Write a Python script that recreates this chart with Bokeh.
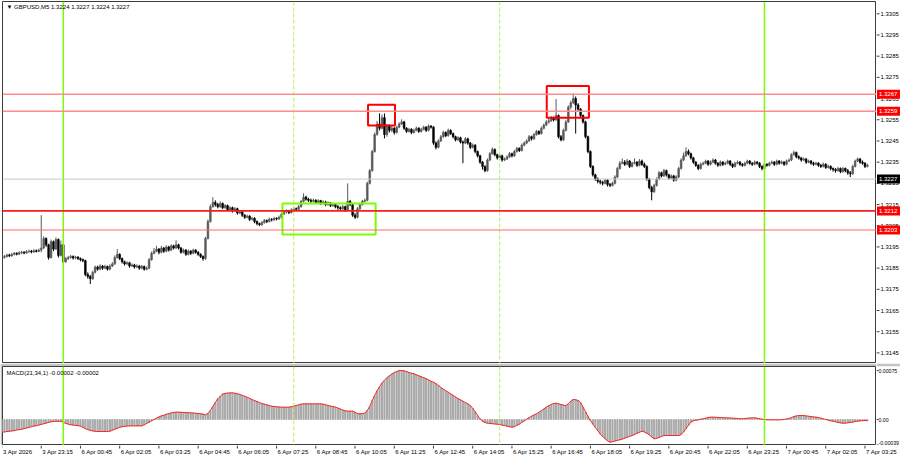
from bokeh.plotting import figure
from bokeh.models import Range1d, Span, Label, ColumnDataSource
from bokeh.core.properties import value
from bokeh.layouts import column, row
from bokeh.embed import file_html
from bokeh.resources import INLINE

# ---------------- data (GBPUSD M5) ----------------
first_open = 1.31898
closes = [
    1.31900, 1.31905, 1.31912, 1.31908, 1.31915, 1.31920, 1.31916, 1.31922, 1.31925, 1.31921,
    1.31928, 1.31930, 1.31926, 1.31932, 1.31929, 1.31935, 1.31945, 1.31990, 1.31960, 1.31900,
    1.31975, 1.31940, 1.31985, 1.31910, 1.31960, 1.31880, 1.31895, 1.31900, 1.31905, 1.31898,
    1.31902, 1.31895, 1.31890, 1.31885, 1.31820, 1.31810, 1.31800, 1.31830, 1.31855, 1.31845,
    1.31860, 1.31850, 1.31858, 1.31845, 1.31860, 1.31870, 1.31900, 1.31915, 1.31895, 1.31880,
    1.31870, 1.31875, 1.31860, 1.31865, 1.31855, 1.31860, 1.31850, 1.31858, 1.31845, 1.31850,
    1.31890, 1.31920, 1.31930, 1.31940, 1.31925, 1.31945, 1.31930, 1.31950, 1.31935, 1.31955,
    1.31945, 1.31960, 1.31945, 1.31925, 1.31935, 1.31915, 1.31930, 1.31920, 1.31935, 1.31925,
    1.31915, 1.31905, 1.31895, 1.31990, 1.32070, 1.32140, 1.32160, 1.32150, 1.32140, 1.32155,
    1.32135, 1.32145, 1.32125, 1.32135, 1.32120, 1.32130, 1.32110, 1.32115, 1.32100, 1.32090,
    1.32095, 1.32080, 1.32085, 1.32070, 1.32060, 1.32055, 1.32065, 1.32075, 1.32070, 1.32080,
    1.32078, 1.32085, 1.32082, 1.32090, 1.32105, 1.32115, 1.32120, 1.32112, 1.32125, 1.32130,
    1.32128, 1.32140, 1.32165, 1.32185, 1.32175, 1.32170, 1.32165, 1.32170, 1.32160, 1.32168,
    1.32155, 1.32162, 1.32150, 1.32158, 1.32145, 1.32150, 1.32140, 1.32135, 1.32130, 1.32140,
    1.32125, 1.32165, 1.32150, 1.32100, 1.32090, 1.32130, 1.32150, 1.32165, 1.32170, 1.32250,
    1.32310, 1.32400, 1.32480, 1.32530, 1.32510, 1.32560, 1.32480, 1.32520, 1.32500, 1.32510,
    1.32490, 1.32515, 1.32530, 1.32540, 1.32510, 1.32495, 1.32505, 1.32490, 1.32500, 1.32510,
    1.32495, 1.32505, 1.32515, 1.32500, 1.32520, 1.32515, 1.32440, 1.32420, 1.32450, 1.32470,
    1.32490, 1.32475, 1.32500, 1.32485, 1.32470, 1.32455, 1.32465, 1.32445, 1.32440, 1.32460,
    1.32440, 1.32420, 1.32430, 1.32400, 1.32380, 1.32350, 1.32330, 1.32310, 1.32360, 1.32390,
    1.32410, 1.32385, 1.32370, 1.32380, 1.32360, 1.32365, 1.32375, 1.32390, 1.32380, 1.32400,
    1.32415, 1.32405, 1.32430, 1.32440, 1.32450, 1.32470, 1.32460, 1.32480, 1.32495, 1.32485,
    1.32510, 1.32525, 1.32540, 1.32545, 1.32560, 1.32550, 1.32570, 1.32470, 1.32455, 1.32500,
    1.32540, 1.32610, 1.32630, 1.32650, 1.32620, 1.32600, 1.32570, 1.32540, 1.32470, 1.32400,
    1.32330, 1.32290, 1.32270, 1.32260, 1.32255, 1.32250, 1.32265, 1.32245, 1.32240, 1.32250,
    1.32280, 1.32320, 1.32345, 1.32350, 1.32340, 1.32355, 1.32330, 1.32345, 1.32350, 1.32335,
    1.32355, 1.32340, 1.32330, 1.32270, 1.32230, 1.32210, 1.32240, 1.32270, 1.32300, 1.32285,
    1.32310, 1.32290, 1.32275, 1.32285, 1.32265, 1.32280, 1.32320, 1.32360, 1.32380, 1.32400,
    1.32390, 1.32370, 1.32350, 1.32335, 1.32320, 1.32340, 1.32345, 1.32355, 1.32340, 1.32350,
    1.32360, 1.32345, 1.32335, 1.32350, 1.32340, 1.32345, 1.32355, 1.32340, 1.32330, 1.32345,
    1.32350, 1.32340, 1.32335, 1.32345, 1.32355, 1.32345, 1.32340, 1.32350, 1.32345, 1.32330,
    1.32320, 1.32340, 1.32335, 1.32345, 1.32350, 1.32340, 1.32355, 1.32345, 1.32350, 1.32340,
    1.32355, 1.32360, 1.32385, 1.32395, 1.32375, 1.32370, 1.32360, 1.32365, 1.32350, 1.32355,
    1.32345, 1.32340, 1.32345, 1.32335, 1.32330, 1.32340, 1.32325, 1.32330, 1.32320, 1.32315,
    1.32310, 1.32320, 1.32305, 1.32320, 1.32310, 1.32300, 1.32295, 1.32330, 1.32355, 1.32365,
    1.32350, 1.32345, 1.32330, 1.32335,
]
highs = [
    1.31908, 1.31912, 1.31918, 1.31918, 1.31922, 1.31926, 1.31925, 1.31930, 1.31932, 1.31930,
    1.31935, 1.31938, 1.31936, 1.31940, 1.31938, 1.31942, 1.32100, 1.32000, 1.31995, 1.31965,
    1.31985, 1.31980, 1.31995, 1.31990, 1.31980, 1.31962, 1.31902, 1.31908, 1.31912, 1.31910,
    1.31908, 1.31906, 1.31900, 1.31895, 1.31890, 1.31830, 1.31818, 1.31838, 1.31862, 1.31862,
    1.31868, 1.31865, 1.31866, 1.31862, 1.31868, 1.31878, 1.31910, 1.31940, 1.31920, 1.31900,
    1.31885, 1.31882, 1.31880, 1.31872, 1.31870, 1.31868, 1.31865, 1.31865, 1.31862, 1.31858,
    1.31898, 1.31928, 1.31945, 1.31955, 1.31945, 1.31955, 1.31950, 1.31958, 1.31955, 1.31962,
    1.31960, 1.31981, 1.31965, 1.31950, 1.31942, 1.31940, 1.31938, 1.31935, 1.31942, 1.31940,
    1.31930, 1.31920, 1.31910, 1.31998, 1.32080, 1.32150, 1.32185, 1.32170, 1.32158, 1.32165,
    1.32160, 1.32152, 1.32150, 1.32142, 1.32140, 1.32138, 1.32135, 1.32122, 1.32120, 1.32105,
    1.32102, 1.32100, 1.32092, 1.32090, 1.32075, 1.32065, 1.32072, 1.32082, 1.32080, 1.32088,
    1.32086, 1.32092, 1.32090, 1.32098, 1.32112, 1.32122, 1.32128, 1.32125, 1.32132, 1.32138,
    1.32136, 1.32148, 1.32172, 1.32203, 1.32192, 1.32182, 1.32178, 1.32178, 1.32175, 1.32175,
    1.32172, 1.32170, 1.32168, 1.32165, 1.32162, 1.32158, 1.32155, 1.32148, 1.32142, 1.32148,
    1.32145, 1.32250, 1.32172, 1.32155, 1.32110, 1.32138, 1.32158, 1.32172, 1.32178, 1.32258,
    1.32318, 1.32408, 1.32490, 1.32545, 1.32580, 1.32575, 1.32580, 1.32530, 1.32528, 1.32520,
    1.32515, 1.32522, 1.32538, 1.32552, 1.32545, 1.32515, 1.32512, 1.32510, 1.32508, 1.32518,
    1.32515, 1.32512, 1.32522, 1.32520, 1.32528, 1.32525, 1.32520, 1.32448, 1.32458, 1.32478,
    1.32498, 1.32495, 1.32508, 1.32505, 1.32490, 1.32475, 1.32472, 1.32470, 1.32452, 1.32468,
    1.32465, 1.32445, 1.32438, 1.32435, 1.32405, 1.32385, 1.32355, 1.32335, 1.32368, 1.32398,
    1.32420, 1.32415, 1.32390, 1.32388, 1.32385, 1.32372, 1.32382, 1.32398, 1.32395, 1.32408,
    1.32422, 1.32420, 1.32438, 1.32448, 1.32458, 1.32478, 1.32475, 1.32488, 1.32502, 1.32500,
    1.32518, 1.32532, 1.32548, 1.32555, 1.32568, 1.32565, 1.32648, 1.32575, 1.32478, 1.32508,
    1.32548, 1.32618, 1.32640, 1.32675, 1.32660, 1.32628, 1.32605, 1.32575, 1.32545, 1.32475,
    1.32405, 1.32335, 1.32295, 1.32278, 1.32268, 1.32262, 1.32272, 1.32270, 1.32252, 1.32258,
    1.32288, 1.32328, 1.32355, 1.32368, 1.32360, 1.32365, 1.32360, 1.32352, 1.32368, 1.32355,
    1.32365, 1.32362, 1.32348, 1.32335, 1.32275, 1.32238, 1.32248, 1.32278, 1.32308, 1.32305,
    1.32318, 1.32315, 1.32295, 1.32292, 1.32290, 1.32288, 1.32328, 1.32368, 1.32395, 1.32420,
    1.32410, 1.32395, 1.32375, 1.32355, 1.32340, 1.32348, 1.32352, 1.32362, 1.32360, 1.32358,
    1.32368, 1.32365, 1.32350, 1.32358, 1.32355, 1.32352, 1.32362, 1.32360, 1.32345, 1.32352,
    1.32358, 1.32355, 1.32345, 1.32352, 1.32362, 1.32360, 1.32350, 1.32358, 1.32355, 1.32350,
    1.32335, 1.32348, 1.32345, 1.32352, 1.32358, 1.32355, 1.32362, 1.32360, 1.32358, 1.32355,
    1.32362, 1.32368, 1.32392, 1.32405, 1.32400, 1.32382, 1.32375, 1.32372, 1.32370, 1.32362,
    1.32360, 1.32352, 1.32352, 1.32350, 1.32342, 1.32348, 1.32345, 1.32338, 1.32335, 1.32325,
    1.32322, 1.32328, 1.32325, 1.32328, 1.32325, 1.32318, 1.32308, 1.32338, 1.32362, 1.32372,
    1.32370, 1.32358, 1.32350, 1.32342,
]
lows = [
    1.31890, 1.31895, 1.31900, 1.31902, 1.31904, 1.31910, 1.31910, 1.31912, 1.31916, 1.31915,
    1.31918, 1.31922, 1.31920, 1.31922, 1.31924, 1.31925, 1.31925, 1.31940, 1.31950, 1.31890,
    1.31895, 1.31930, 1.31935, 1.31900, 1.31905, 1.31872, 1.31875, 1.31888, 1.31895, 1.31890,
    1.31892, 1.31888, 1.31882, 1.31878, 1.31812, 1.31800, 1.31775, 1.31795, 1.31825, 1.31838,
    1.31840, 1.31842, 1.31845, 1.31838, 1.31840, 1.31855, 1.31865, 1.31895, 1.31888, 1.31872,
    1.31862, 1.31865, 1.31852, 1.31855, 1.31848, 1.31850, 1.31842, 1.31845, 1.31838, 1.31840,
    1.31845, 1.31885, 1.31915, 1.31925, 1.31915, 1.31920, 1.31922, 1.31925, 1.31928, 1.31930,
    1.31938, 1.31940, 1.31938, 1.31918, 1.31920, 1.31908, 1.31910, 1.31912, 1.31915, 1.31918,
    1.31908, 1.31898, 1.31885, 1.31890, 1.31985, 1.32065, 1.32135, 1.32140, 1.32132, 1.32135,
    1.32128, 1.32130, 1.32118, 1.32120, 1.32112, 1.32115, 1.32102, 1.32105, 1.32092, 1.32082,
    1.32085, 1.32072, 1.32075, 1.32062, 1.32052, 1.32048, 1.32050, 1.32060, 1.32062, 1.32065,
    1.32070, 1.32072, 1.32075, 1.32078, 1.32085, 1.32100, 1.32108, 1.32105, 1.32108, 1.32118,
    1.32120, 1.32122, 1.32135, 1.32160, 1.32168, 1.32162, 1.32158, 1.32160, 1.32152, 1.32155,
    1.32148, 1.32150, 1.32142, 1.32145, 1.32138, 1.32140, 1.32132, 1.32125, 1.32120, 1.32125,
    1.32115, 1.32120, 1.32142, 1.32092, 1.32082, 1.32085, 1.32125, 1.32145, 1.32160, 1.32165,
    1.32245, 1.32305, 1.32395, 1.32475, 1.32500, 1.32505, 1.32462, 1.32470, 1.32490, 1.32492,
    1.32480, 1.32485, 1.32510, 1.32525, 1.32502, 1.32488, 1.32490, 1.32482, 1.32485, 1.32495,
    1.32488, 1.32490, 1.32500, 1.32492, 1.32495, 1.32508, 1.32432, 1.32410, 1.32415, 1.32445,
    1.32465, 1.32468, 1.32470, 1.32478, 1.32462, 1.32448, 1.32450, 1.32438, 1.32345, 1.32435,
    1.32432, 1.32412, 1.32415, 1.32392, 1.32372, 1.32342, 1.32315, 1.32302, 1.32305, 1.32355,
    1.32385, 1.32378, 1.32362, 1.32365, 1.32352, 1.32355, 1.32360, 1.32370, 1.32372, 1.32375,
    1.32395, 1.32398, 1.32400, 1.32425, 1.32435, 1.32445, 1.32452, 1.32455, 1.32475, 1.32478,
    1.32480, 1.32505, 1.32520, 1.32532, 1.32540, 1.32542, 1.32545, 1.32462, 1.32448, 1.32450,
    1.32495, 1.32535, 1.32600, 1.32625, 1.32485, 1.32592, 1.32562, 1.32532, 1.32462, 1.32392,
    1.32322, 1.32282, 1.32262, 1.32250, 1.32245, 1.32240, 1.32245, 1.32235, 1.32232, 1.32235,
    1.32245, 1.32275, 1.32315, 1.32340, 1.32332, 1.32335, 1.32322, 1.32325, 1.32340, 1.32328,
    1.32330, 1.32332, 1.32322, 1.32262, 1.32222, 1.32170, 1.32205, 1.32235, 1.32265, 1.32278,
    1.32280, 1.32282, 1.32268, 1.32270, 1.32258, 1.32260, 1.32275, 1.32315, 1.32355, 1.32375,
    1.32382, 1.32362, 1.32342, 1.32328, 1.32312, 1.32315, 1.32335, 1.32340, 1.32332, 1.32335,
    1.32345, 1.32338, 1.32328, 1.32330, 1.32332, 1.32335, 1.32340, 1.32332, 1.32322, 1.32325,
    1.32340, 1.32332, 1.32328, 1.32330, 1.32340, 1.32338, 1.32332, 1.32335, 1.32338, 1.32322,
    1.32311, 1.32315, 1.32328, 1.32330, 1.32340, 1.32332, 1.32335, 1.32338, 1.32340, 1.32332,
    1.32335, 1.32350, 1.32355, 1.32380, 1.32368, 1.32362, 1.32352, 1.32355, 1.32342, 1.32345,
    1.32338, 1.32332, 1.32335, 1.32328, 1.32322, 1.32325, 1.32318, 1.32320, 1.32312, 1.32305,
    1.32300, 1.32305, 1.32298, 1.32300, 1.32302, 1.32290, 1.32280, 1.32290, 1.32325, 1.32350,
    1.32342, 1.32338, 1.32322, 1.32325,
]
# MACD(21,34,1) main / signal, in units of 1e-5
macd_pts = [
    -19.4, -19, -18.5, -18, -17.5, -17, -16, -15.5, -15, -14,
    -13, -12, -11, -10, -9.5, -8.5, -7.5, -6.5, -5.5, -4.5,
    -3.5, -3, -2.5, -3, -2.5, -4, -6, -7, -8, -8.5,
    -9, -9.5, -10, -12, -14, -15.5, -16.8, -17.5, -18, -18.4,
    -18.4, -18.4, -18.4, -18.2, -18, -16.5, -15, -13.3, -12, -11,
    -10.5, -10, -9.8, -9.7, -9.7, -9.7, -9.7, -9.7, -8, -6,
    -4, -2, 0, 2, 4, 5.5, 6.5, 8, 9, 10,
    10.8, 11.2, 11.2, 11, 10.8, 10.5, 10.3, 10.2, 10, 9.6,
    9.2, 8.9, 8.2, 7.1, 9.5, 13.8, 20, 26, 31.6, 35.5,
    39, 40, 40.5, 40.8, 40.8, 40.3, 39.5, 38.3, 37, 35.5,
    34, 32.5, 30.5, 29, 27.5, 26, 24.5, 23.5, 22.5, 21.5,
    20.3, 19.8, 19.5, 19.2, 19, 18.9, 18.9, 18.9, 19.5, 20.5,
    21.5, 22.5, 23.5, 24, 24, 24, 24, 24, 24, 24,
    24, 23.5, 22.5, 21.5, 20.5, 19.9, 19, 17.5, 16, 14.5,
    13.3, 12.8, 12.8, 12.8, 11, 9, 8.7, 9, 9.7, 14,
    20, 29, 37, 44, 50, 56, 60, 64, 67, 69.5,
    72, 73.5, 75, 75, 74.5, 73.5, 72, 70.9, 70, 68.5,
    67, 65.5, 64, 62.5, 60.5, 58.5, 57.1, 55, 52, 49,
    46.5, 44, 41.8, 39.3, 37, 34.5, 32, 30.1, 28, 26,
    24, 21.4, 17, 12, 6, 1, -2.5, -4.5, -5.6, -6,
    -6.4, -6.8, -7.2, -7.7, -8.5, -9.3, -10.1, -11, -11.7, -11,
    -9, -7, -4.5, -2, 0.5, 3, 5, 7, 8.7, 11,
    13.5, 16, 18.9, 21, 23, 24.5, 25, 24, 23, 22,
    21.4, 24, 28, 30.6, 30.3, 29.1, 26, 19, 12, 5,
    -1.5, -7, -12, -17, -22, -26, -29.5, -32.5, -34.7, -34,
    -33, -32, -31, -30, -28.5, -27, -26, -24.5, -23, -21,
    -19.5, -17.9, -19, -21, -23.5, -26.5, -29.5, -29, -27.5, -26,
    -24.5, -24.5, -24.5, -24.5, -24.5, -24.5, -24.5, -23, -19, -14,
    -9, -4, -2, -1, -0.5, 0.5, 1, 2, 3, 3.6,
    3.6, 3.5, 3.2, 3, 2.8, 2.6, 2.5, 2.3, 2, 1.8,
    1.5, 1.2, 1, 1.5, 2, 2.3, 2.5, 2.5, 2, 1.2,
    0.5, 0, -0.3, -0.5, -0.5, -0.5, -0.5, -0.5, -0.3, 0.2,
    0.8, 1.5, 3, 4.5, 5.5, 6, 6.1, 6.1, 5.5, 5,
    4.5, 4, 3.6, 3, 2, 1, 0, -1, -2, -2.5,
    -3.5, -4.5, -5.2, -5.6, -5.6, -5, -4.5, -4, -3, -2.5,
    -2, -1.8, -1.5, -2,
]

price_ticks = [1.3145, 1.3155, 1.3165, 1.3175, 1.3185, 1.3195, 1.3205, 1.3215, 1.3225,
               1.3235, 1.3245, 1.3255, 1.3265, 1.3275, 1.3285, 1.3295, 1.3305]
macd_ticks = [-0.00039, 0.0, 0.00075]
macd_tick_labels = ["-0.00039", "0.00", "0.00075"]
time_tick_idx = [0, 16, 32, 48, 64, 80, 96, 112, 128, 144, 160, 176, 192, 208, 224, 240,
                 256, 272, 288, 304, 320, 336, 352]
time_labels = ["3 Apr 2026", "3 Apr 23:15", "6 Apr 00:45", "6 Apr 02:05", "6 Apr 03:25",
               "6 Apr 04:45", "6 Apr 06:05", "6 Apr 07:25", "6 Apr 08:45", "6 Apr 10:05",
               "6 Apr 11:25", "6 Apr 12:45", "6 Apr 14:05", "6 Apr 15:25", "6 Apr 16:45",
               "6 Apr 18:05", "6 Apr 19:25", "6 Apr 20:45", "6 Apr 22:05", "6 Apr 23:25",
               "7 Apr 00:45", "7 Apr 02:05", "7 Apr 03:25"]

level_prices = [1.3267, 1.3259, 1.3212, 1.3203]
level_labels = ["1.3267", "1.3259", "1.3212", "1.3203"]
bid_price = 1.3227
bid_label = "1.3227"
day_separators = [25, 311]
session_marks = [119, 203]

box_left = [114.4, 149.3, 222.2]
box_right = [152.4, 160.3, 239.4]
box_top = [1.32155, 1.32621, 1.32709]
box_bottom = [1.32009, 1.32523, 1.32560]
box_kind = ["green", "red", "red"]

title_text = "\u25BC GBPUSD,M5  1.3224 1.3227 1.3224 1.3227"
macd_title = "MACD(21,34,1) -0.00002 -0.00002"

# ---------------- layout constants ----------------
FONT = "Liberation Sans"
LIME = "#7CFC00"
FRAME_W = 874
AXIS_W = 24
MAIN_H = 362
MACD_H = 79
x_lo, x_hi = 0.2, 356.7
px_per_bar = FRAME_W / (x_hi - x_lo)
p_lo, p_hi = 1.31400, 1.33108
m_lo, m_hi = -0.000398, 0.000812

n = len(closes)
idx = list(range(n))
opens = [first_open] + closes[:-1]
macd = [v * 1e-5 for v in macd_pts]

BULL = "#5a5a5a"
BEAR = "#000000"
colors = [BULL if c >= o else BEAR for o, c in zip(opens, closes)]
src = ColumnDataSource(dict(
    x=idx, h=highs, l=lows,
    top=[max(o, c) for o, c in zip(opens, closes)],
    bot=[min(o, c) for o, c in zip(opens, closes)],
    color=colors))

x_range = Range1d(x_lo, x_hi)
main_y = Range1d(p_lo, p_hi)
macd_y = Range1d(m_lo, m_hi)


def base_fig(**kw):
    f = figure(output_backend="svg", toolbar_location=None, x_axis_location=None,
               y_axis_location=None, min_border_left=0, min_border_right=0,
               min_border_top=0, min_border_bottom=0, **kw)
    f.grid.visible = False
    f.background_fill_color = "white"
    f.border_fill_color = "white"
    f.outline_line_color = None
    return f


# ---------------- main price panel ----------------
p = base_fig(frame_width=FRAME_W, frame_height=MAIN_H, x_range=x_range, y_range=main_y)
p.min_border_left = 2
p.min_border_top = 1
p.outline_line_color = "#3c3c3c"

for d in day_separators:
    p.add_layout(Span(location=d, dimension="height", line_color=LIME, line_width=1.5))
for s in session_marks:
    p.add_layout(Span(location=s, dimension="height", line_color="#B4F06A", line_width=1,
                      line_dash="4 2"))
level_colors = ["#FF8C8C", "#FF8C8C", "#FF1A1A", "#FF6A6A"]
level_widths = [1.5, 1.5, 1.6, 1.2]
for lp, lc, lw in zip(level_prices, level_colors, level_widths):
    p.add_layout(Span(location=lp, dimension="width", line_color=lc, line_width=lw))
p.add_layout(Span(location=bid_price, dimension="width", line_color="#C8C8C8", line_width=1))

p.segment(x0="x", x1="x", y0="l", y1="h", color="color", line_width=1, source=src)
p.vbar(x="x", width=0.7, top="top", bottom="bot", fill_color="color", line_color="color",
       line_width=0.6, source=src)

for bl, br, bt, bb, k in zip(box_left, box_right, box_top, box_bottom, box_kind):
    p.quad(left=[bl], right=[br], top=[bt], bottom=[bb], fill_alpha=0,
           line_color=(LIME if k == "green" else "#FF0000"), line_width=2)

p.add_layout(Label(x=x_lo, y=p_hi, x_offset=4, y_offset=-2, text=title_text,
                   text_align="left", text_baseline="top", text_font=FONT,
                   text_font_size="6px", text_color="#000000"))

# price scale strip (right)
pa = base_fig(frame_width=AXIS_W, frame_height=MAIN_H, x_range=Range1d(0, AXIS_W),
              y_range=main_y)
pa.min_border_top = 1
pa.segment(x0=0, x1=3, y0=price_ticks, y1=price_ticks, color="#3c3c3c", line_width=1)
pa.text(x=4, y=price_ticks, text=[f"{t:.4f}" for t in price_ticks], text_align="left",
        text_baseline="middle", text_font=value(FONT), text_font_size="6px",
        text_color="#000000")
tag_y = level_prices + [bid_price]
tag_txt = level_labels + [bid_label]
tag_bg = ["#FF0000"] * len(level_prices) + ["#000000"]
pa.rect(x=AXIS_W / 2, y=tag_y, width=AXIS_W - 1, height=9, height_units="screen",
        fill_color=tag_bg, line_color=None)
pa.text(x=2.5, y=tag_y, text=tag_txt, text_align="left", text_baseline="middle",
        text_font=value(FONT), text_font_size="6px", text_color="white")

# ---------------- MACD panel ----------------
SEP = "#C4C4C4"
q = base_fig(frame_width=FRAME_W, frame_height=MACD_H, x_range=x_range, y_range=macd_y)
q.min_border_left = 2
q.min_border_top = 3
q.border_fill_color = SEP
q.outline_line_color = "#3c3c3c"

for d in day_separators:
    q.add_layout(Span(location=d, dimension="height", line_color=LIME, line_width=1.5))
for s in session_marks:
    q.add_layout(Span(location=s, dimension="height", line_color="#B4F06A", line_width=1,
                      line_dash="4 2"))
q.vbar(x=idx, top=macd, bottom=0, width=0.45, color="#A8A8A8")
q.line(idx, macd, color="#FF2020", line_width=1)
q.add_layout(Label(x=x_lo, y=m_hi, x_offset=4, y_offset=-3, text=macd_title,
                   text_align="left", text_baseline="top", text_font=FONT,
                   text_font_size="6px", text_color="#000000"))

qa = base_fig(frame_width=AXIS_W, frame_height=MACD_H, x_range=Range1d(0, AXIS_W),
              y_range=macd_y)
qa.min_border_top = 3
qa.border_fill_color = SEP
qa.segment(x0=0, x1=2, y0=macd_ticks, y1=macd_ticks, color="#3c3c3c", line_width=1)
qa.text(x=2, y=macd_ticks[1:], text=macd_tick_labels[1:], text_align="left",
        text_baseline="middle", text_font=value(FONT), text_font_size="5.2px",
        text_color="#000000")
qa.text(x=2, y=macd_ticks[:1], text=macd_tick_labels[:1], text_align="left",
        text_baseline="bottom", text_font=value(FONT), text_font_size="5.2px",
        text_color="#000000")

# ---------------- time scale strip (bottom) ----------------
TIME_H = 15
TIME_W = FRAME_W + AXIS_W
t = base_fig(frame_width=TIME_W, frame_height=TIME_H,
             x_range=Range1d(x_lo, x_lo + TIME_W / px_per_bar), y_range=Range1d(0, TIME_H))
t.min_border_left = 2
t.segment(x0=time_tick_idx, x1=time_tick_idx, y0=TIME_H, y1=TIME_H - 3, color="#3c3c3c",
          line_width=1)
t.text(x=time_tick_idx, y=TIME_H - 3, x_offset=1, text=time_labels, text_align="left",
       text_baseline="top", text_font=value(FONT), text_font_size="6px",
       text_color="#000000")

layout = column(row(p, pa, spacing=0), row(q, qa, spacing=0), t, spacing=0)
open("out.html", "w").write(file_html(layout, INLINE))
